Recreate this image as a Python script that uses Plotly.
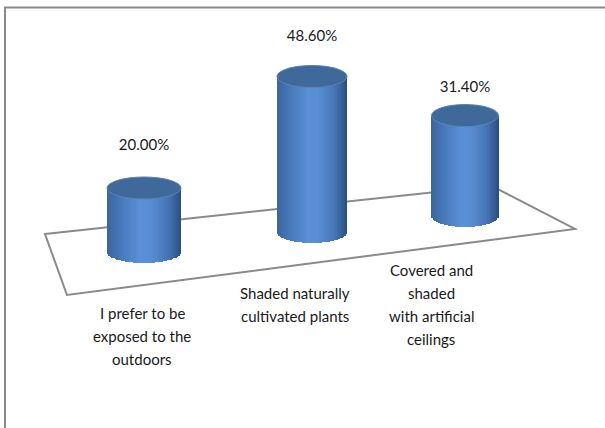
import numpy as np
import plotly.graph_objects as go

# ---- data ----
categories = ["I prefer to be\nexposed to the\noutdoors",
              "Shaded naturally\ncultivated plants",
              "Covered and\nshaded\nwith artificial\nceilings"]
values = [20.00, 48.60, 31.40]
value_labels = ["20.00%", "48.60%", "31.40%"]

# ---- layout constants (pseudo-3D projection) ----
W, H = 605, 428
K = 3.2            # pixels per percentage point
P0 = 252           # pixel row of value 0 for the first cylinder
centers_px = [144, 312, 465]
half_w_px = [37, 35, 33.5]
base_px = [252, 232, 216]
label_gap_px = [42, 39, 27]
ell_b_px = 11
cat_pos = [(142, 313), (295, 293), (431, 270)]
line_h = 23
N = 48

def py2u(p):
    return (P0 - p) / K

fig = go.Figure()

# body colour ramp across the cylinder (left -> right)
stops = [(-1.0, (58, 101, 160)), (-0.55, (74, 124, 190)), (-0.1, (90, 144, 215)),
         (0.2, (88, 141, 211)), (0.65, (70, 117, 182)), (1.0, (44, 78, 126))]

def ramp(u):
    for (u0, c0), (u1, c1) in zip(stops[:-1], stops[1:]):
        if u0 <= u <= u1:
            t = (u - u0) / (u1 - u0)
            c = [round(a + (b - a) * t) for a, b in zip(c0, c1)]
            return "rgb(%d,%d,%d)" % tuple(c)
    return "rgb(%d,%d,%d)" % stops[-1][1]

b_u = ell_b_px / K
for i, v in enumerate(values):
    cx, a = centers_px[i], half_w_px[i]
    base_u = py2u(base_px[i])
    us = (np.arange(N) + 0.5) / N * 2 - 1
    xs = cx + us * a
    drop = b_u * np.sqrt(1 - us ** 2)
    bases = base_u - drop
    heights = v + drop
    fig.add_trace(go.Bar(
        x=xs, y=heights, base=bases, width=2 * a / N * 1.25,
        marker=dict(color=[ramp(u) for u in us], line=dict(width=0)),
        hoverinfo="skip", showlegend=False))
    top_u = base_u + v
    fig.add_shape(type="circle", xref="x", yref="y",
                  x0=cx - a, x1=cx + a, y0=top_u - b_u, y1=top_u + b_u,
                  fillcolor="rgb(64,105,155)",
                  line=dict(color="rgb(90,130,182)", width=1), layer="above")

# data labels
lab_y = [py2u(base_px[i]) + values[i] + label_gap_px[i] / K for i in range(3)]
fig.add_trace(go.Scatter(
    x=centers_px, y=lab_y, mode="text", text=value_labels,
    textposition="middle center",
    textfont=dict(family="Lato, Carlito, sans-serif", size=15, color="#1a1a1a"),
    hoverinfo="skip", showlegend=False))

# category labels
for (xc, y0), cat in zip(cat_pos, categories):
    for j, line in enumerate(cat.split("\n")):
        fig.add_annotation(x=xc / W, y=1 - (y0 + j * line_h) / H,
                           xref="paper", yref="paper", text=line,
                           showarrow=False, xanchor="center", yanchor="middle",
                           font=dict(family="Lato, Carlito, sans-serif", size=15,
                                     color="#1a1a1a"))

def P(x, y):
    return "%.4f %.4f" % (x / W, 1 - y / H)

# floor
floor = [(45, 234), (492, 186), (575, 229), (67, 295)]
path = "M " + " L ".join(P(*p) for p in floor) + " Z"
fig.add_shape(type="path", path=path, xref="paper", yref="paper",
              line=dict(color="#8a8a8a", width=2), fillcolor="rgba(0,0,0,0)",
              layer="below")

# chart frame
fig.add_shape(type="rect", xref="paper", yref="paper",
              x0=5 / W, x1=1.02, y0=-0.05, y1=1 - 7.5 / H,
              line=dict(color="#8a8a8a", width=2), layer="above")

fig.update_layout(
    width=W, height=H, margin=dict(l=0, r=0, t=0, b=0),
    paper_bgcolor="white", plot_bgcolor="white",
    barmode="overlay", bargap=0,
    xaxis=dict(range=[0, W], visible=False, fixedrange=True),
    yaxis=dict(range=[py2u(H), py2u(0)], visible=False, fixedrange=True),
)
fig.write_html("out.html",
               config={"displayModeBar": False, "staticPlot": True},
               post_script="document.body.style.margin='0';"
                           "document.body.style.overflow='hidden';")
